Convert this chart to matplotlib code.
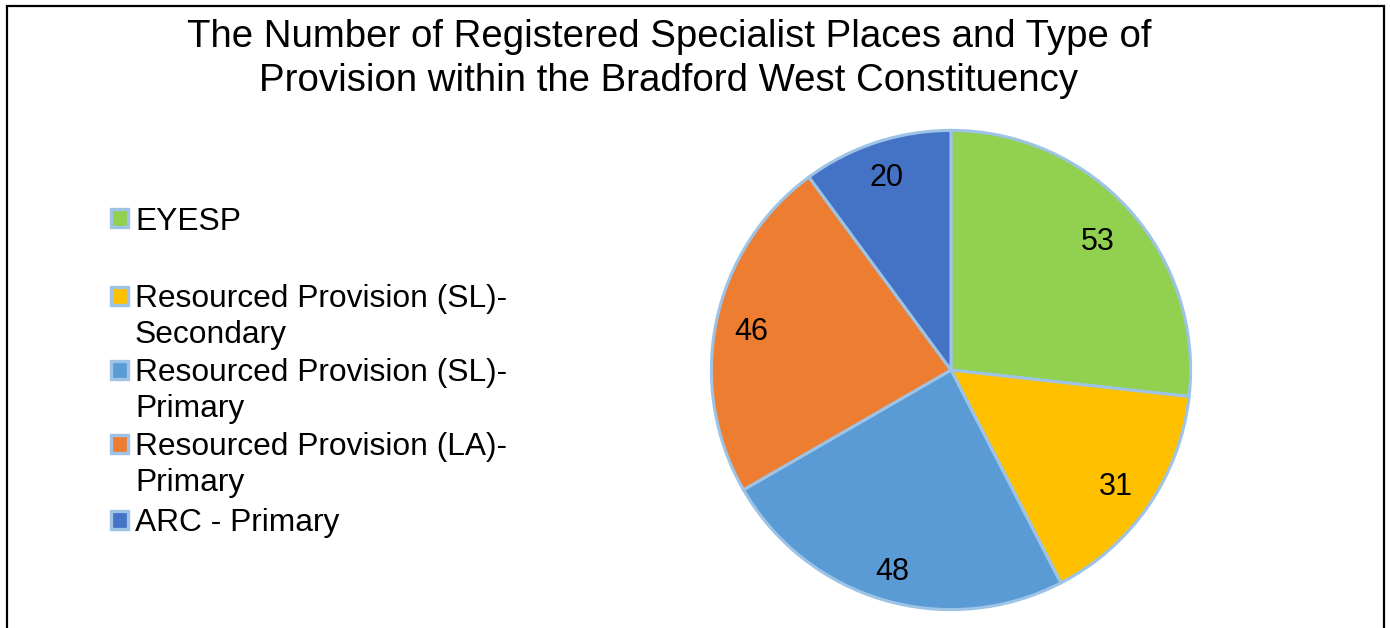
import matplotlib
matplotlib.use('Agg')
import numpy as np
import matplotlib.pyplot as plt
from matplotlib.patches import Rectangle

# Chart data
categories = ['EYESP',
              'Resourced Provision (SL)-\nSecondary',
              'Resourced Provision (SL)-\nPrimary',
              'Resourced Provision (LA)-\nPrimary',
              'ARC - Primary']
values = [53, 31, 48, 46, 20]
colors = ['#92D050', '#FFC000', '#5B9BD5', '#ED7D31', '#4472C4']
edge_color = '#9DC3E6'

title = ('The Number of Registered Specialist Places and Type of\n'
         'Provision within the Bradford West Constituency')

# Excel's "best fit" puts each data label at a slightly different radius
label_dist = [0.82, 0.835, 0.865, 0.85, 0.86]

plt.rcParams['font.family'] = ['Liberation Sans', 'DejaVu Sans']

W, H = 1390, 628
fig = plt.figure(figsize=(W / 100, H / 100), dpi=100)

# outer chart frame (bottom edge is cut off in the original)
fig.patches.append(Rectangle((7 / W, -0.05), (1384 - 7) / W, 1.05 - 6 / H,
                             transform=fig.transFigure, fill=False,
                             edgecolor='black', linewidth=1.6))

# title, one line at a time so the baselines sit where Excel put them
for line, base in zip(title.split('\n'), [47, 91]):
    fig.text(669 / W, 1 - base / H, line, ha='center', va='baseline',
             fontsize=27.6)

# Pie
cx, cy, r = 951, 370, 242
ax = fig.add_axes([(cx - r) / W, (H - cy - r) / H, 2 * r / W, 2 * r / H])
wedges, texts, autotexts = ax.pie(
    values, colors=colors, startangle=90, counterclock=False, radius=1,
    autopct=lambda p: '{:.0f}'.format(p * sum(values) / 100),
    pctdistance=0.85,
    wedgeprops=dict(edgecolor=edge_color, linewidth=2.2),
    textprops=dict(fontsize=22, color='black'))
for t, w, d in zip(autotexts, wedges, label_dist):
    ang = np.deg2rad((w.theta1 + w.theta2) / 2)
    t.set_position((d * np.cos(ang), d * np.sin(ang)))
    t.set_va('center_baseline')
ax.set_xlim(-1.01, 1.01)
ax.set_ylim(-1.01, 1.01)
ax.set_aspect('equal')
ax.axis('off')

# Legend, drawn by hand to mimic the Excel layout
legend_y = [218, 296, 370, 444, 520]
for label, color, y in zip(categories, colors, legend_y):
    fig.patches.append(Rectangle((111 / W, 1 - (y + 9) / H), 17 / W, 18 / H,
                                 transform=fig.transFigure, facecolor=color,
                                 edgecolor=edge_color, linewidth=2.4))
    for i, line in enumerate(label.split('\n')):
        fig.text(135 / W, 1 - (y + i * 36) / H, line, ha='left',
                 va='center_baseline', fontsize=22.9)

plt.savefig('out.png', dpi=100, facecolor='white')
